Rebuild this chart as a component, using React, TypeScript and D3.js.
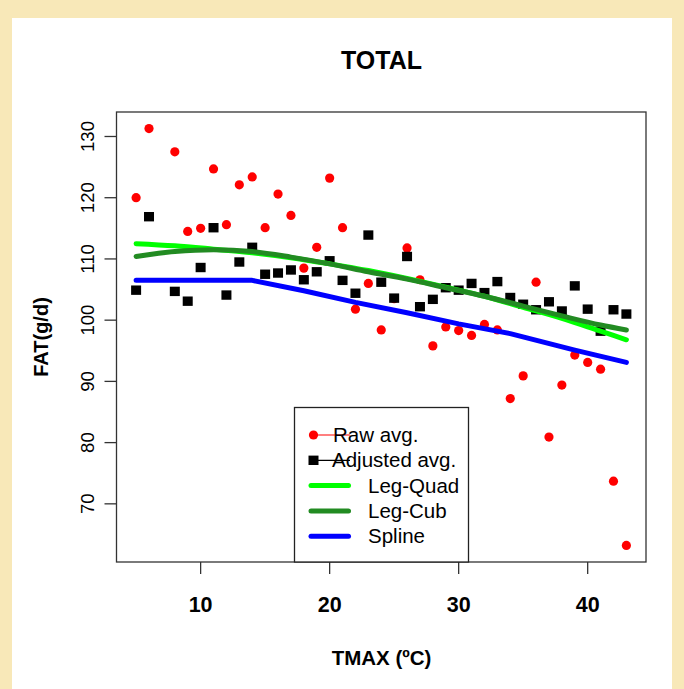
import React from "react";
import * as d3 from "d3";

// Maximum temperature (ºC) for each averaged group
const tmax = [5, 6, 8, 9, 10, 11, 12, 13, 14, 15, 16, 17, 18, 19, 20, 21, 22, 23, 24, 25, 26, 27, 28, 29, 30, 31, 32, 33, 34, 35, 36, 37, 38, 39, 40, 41, 42, 43];

// Raw fat averages (g/d)
const rawAvg = [120.0, 131.3, 127.5, 114.5, 115.0, 124.7, 115.6, 122.1, 123.4, 115.1, 120.6, 117.1, 108.5, 111.9, 123.2, 115.1, 101.8, 106.0, 98.4, 103.5, 111.8, 106.6, 95.8, 98.9, 98.3, 97.5, 99.3, 98.4, 87.2, 90.9, 106.2, 80.9, 89.4, 94.3, 93.1, 92.0, 73.7, 63.2];

// Adjusted fat averages (g/d)
const adjustedAvg = [104.9, 116.9, 104.7, 103.1, 108.6, 115.1, 104.1, 109.5, 111.9, 107.5, 107.7, 108.2, 106.6, 107.9, 109.7, 106.5, 104.4, 113.9, 106.2, 103.6, 110.4, 102.2, 103.4, 105.3, 104.9, 106.0, 104.5, 106.3, 103.7, 102.6, 101.7, 103.0, 101.5, 105.6, 101.8, 98.2, 101.7, 101.0];

// Fitted curves
const curveX = [5, 8, 11, 14, 17, 20, 23, 26, 29, 32, 35, 38, 41, 43];
const legQuad = [112.5, 112.15, 111.6, 111.0, 110.2, 109.2, 108.1, 106.8, 105.4, 103.9, 102.1, 100.3, 98.2, 96.8];
const legCub = [110.4, 111.2, 111.5, 111.2, 110.3, 109.2, 107.9, 106.7, 105.3, 103.9, 102.3, 100.7, 99.2, 98.4];

const splineX = [5, 14, 18, 22, 26, 30, 34, 39, 43];
const spline = [106.5, 106.5, 104.8, 102.9, 101.2, 99.4, 97.8, 95.1, 93.1];

const xTicks = [10, 20, 30, 40];
const yTicks = [70, 80, 90, 100, 110, 120, 130];

const legendLabels = ["Raw avg.", "Adjusted avg.", "Leg-Quad", "Leg-Cub", "Spline"];

const FONT = "'Liberation Sans', Arial, Helvetica, sans-serif";

export default function App() {
  const W = 684;
  const H = 689;
  const left = 116.5;
  const right = 646;
  const top = 112;
  const bottom = 562;

  const x = d3.scaleLinear().domain([3.48, 44.52]).range([left, right]);
  const y = d3.scaleLinear().domain([60.5, 134.0]).range([bottom, top]);

  const line = (xs: number[], ys: number[], curve: d3.CurveFactory) =>
    d3
      .line<number>()
      .x((_, i) => x(xs[i]))
      .y((v) => y(v))
      .curve(curve)(ys) || "";

  const legendLeft = 294.5;
  const legendRight = 468.5;
  const legendTop = 407.5;
  const rowY = (i: number) => 435 + i * 25.3;

  return (
    <svg
      width={W}
      height={H}
      style={{ position: "fixed", left: 0, top: 0, display: "block" }}
      fontFamily={FONT}
    >
      <rect x={0} y={0} width={W} height={H} fill="#f8e8b8" />
      <rect x={12} y={18} width={660} height={H - 18} fill="#ffffff" />

      {/* title */}
      <text x={381.5} y={68.5} textAnchor="middle" fontSize={25} fontWeight="bold" fill="#000">
        TOTAL
      </text>

      {/* raw points */}
      {tmax.map((t, i) => (
        <circle key={`r${i}`} cx={x(t)} cy={y(rawAvg[i])} r={4.6} fill="#ff0000" />
      ))}

      {/* adjusted points */}
      {tmax.map((t, i) => (
        <rect
          key={`a${i}`}
          x={x(t) - 5}
          y={y(adjustedAvg[i]) - 4.7}
          width={10}
          height={9.4}
          fill="#000"
        />
      ))}

      {/* fitted curves */}
      <path d={line(curveX, legQuad, d3.curveMonotoneX)} fill="none" stroke="#00ff00" strokeWidth={5} strokeLinecap="round" />
      <path d={line(curveX, legCub, d3.curveMonotoneX)} fill="none" stroke="#228b22" strokeWidth={5} strokeLinecap="round" />
      <path d={line(splineX, spline, d3.curveLinear)} fill="none" stroke="#0000ff" strokeWidth={5} strokeLinecap="round" strokeLinejoin="round" />

      {/* plot frame */}
      <rect x={left} y={top} width={right - left} height={bottom - top} fill="none" stroke="#333" strokeWidth={1.3} />

      {/* x axis */}
      {xTicks.map((t) => (
        <g key={`xt${t}`}>
          <line x1={x(t)} x2={x(t)} y1={bottom} y2={bottom + 12} stroke="#333" strokeWidth={1.3} />
          <text x={x(t)} y={611.5} textAnchor="middle" fontSize={21.5} fontWeight="bold" fill="#000">
            {t}
          </text>
        </g>
      ))}
      <text x={381.5} y={664.5} textAnchor="middle" fontSize={20.5} fontWeight="bold" fill="#000">
        TMAX (ºC)
      </text>

      {/* y axis */}
      {yTicks.map((t) => (
        <g key={`yt${t}`}>
          <line x1={left - 12} x2={left} y1={y(t)} y2={y(t)} stroke="#333" strokeWidth={1.3} />
          <text
            transform={`translate(93.5,${y(t)}) rotate(-90)`}
            textAnchor="middle"
            fontSize={18.5}
            fill="#000"
          >
            {t}
          </text>
        </g>
      ))}
      <text
        transform={`translate(47.5,${(top + bottom) / 2}) rotate(-90)`}
        textAnchor="middle"
        fontSize={20}
        fontWeight="bold"
        fill="#000"
      >
        FAT(g/d)
      </text>

      {/* legend */}
      <rect
        x={legendLeft}
        y={legendTop}
        width={legendRight - legendLeft}
        height={bottom - legendTop}
        fill="#fff"
        stroke="#222"
        strokeWidth={1.3}
      />
      <line x1={313.5} x2={350} y1={rowY(0)} y2={rowY(0)} stroke="#ff0000" strokeWidth={1.2} />
      <circle cx={313.5} cy={rowY(0)} r={4.6} fill="#ff0000" />
      <line x1={313.5} x2={350} y1={rowY(1)} y2={rowY(1)} stroke="#000" strokeWidth={1.2} />
      <rect x={308.5} y={rowY(1) - 4.7} width={10} height={9.4} fill="#000" />
      {["#00ff00", "#228b22", "#0000ff"].map((c, k) => (
        <line
          key={`ll${k}`}
          x1={311}
          x2={348.5}
          y1={rowY(k + 2)}
          y2={rowY(k + 2)}
          stroke={c}
          strokeWidth={5}
          strokeLinecap="round"
        />
      ))}
      {legendLabels.map((lab, i) => (
        <text
          key={`lt${i}`}
          x={i === 0 ? 333 : i === 1 ? 332 : 368}
          y={rowY(i) + 7}
          fontSize={20.5}
          fill="#000"
        >
          {lab}
        </text>
      ))}
    </svg>
  );
}
